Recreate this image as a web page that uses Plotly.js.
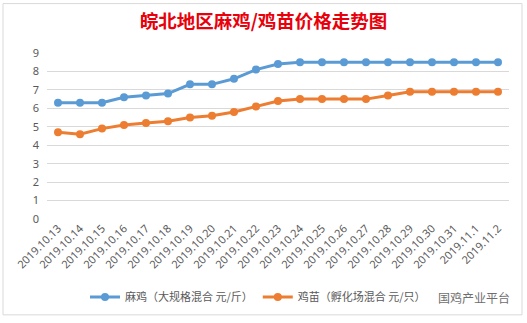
<!DOCTYPE html>
<html><head><meta charset="utf-8">
<script src="https://cdn.plot.ly/plotly-3.0.1.min.js"></script>
<style>html,body{margin:0;padding:0;background:#fff}#c{width:527px;height:323px}</style>
</head><body><div id="c"></div>
<script>
const dates = ["2019.10.13","2019.10.14","2019.10.15","2019.10.16","2019.10.17","2019.10.18","2019.10.19","2019.10.20","2019.10.21","2019.10.22","2019.10.23","2019.10.24","2019.10.25","2019.10.26","2019.10.27","2019.10.28","2019.10.29","2019.10.30","2019.10.31","2019.11.1","2019.11.2"];
const maji = [6.3,6.3,6.3,6.6,6.7,6.8,7.3,7.3,7.6,8.1,8.4,8.5,8.5,8.5,8.5,8.5,8.5,8.5,8.5,8.5,8.5];
const jimiao = [4.7,4.6,4.9,5.1,5.2,5.3,5.5,5.6,5.8,6.1,6.4,6.5,6.5,6.5,6.5,6.7,6.9,6.9,6.9,6.9,6.9];
const names = ["麻鸡（大规格混合 元/斤）","鸡苗（孵化场混合 元/只）"];
const yTicks = [0,1,2,3,4,5,6,7,8,9];

const font = "Microsoft YaHei, 'Noto Sans CJK SC', sans-serif";
const W = 527, H = 323, L = 47, R = 18, T = 53, B = 102;
const pw = W - L - R, ph = H - T - B;
const px = v => (v - L) / pw, py = v => (H - B - v) / ph;

const traces = [
  {x: dates, y: maji, name: names[0], type: 'scatter', mode: 'lines+markers',
   line: {color: '#5B9BD5', width: 3}, marker: {color: '#5B9BD5', size: 8}},
  {x: dates, y: jimiao, name: names[1], type: 'scatter', mode: 'lines+markers',
   line: {color: '#ED7D31', width: 3}, marker: {color: '#ED7D31', size: 8}}
];

const layout = {
  width: W, height: H,
  margin: {l: L, r: R, t: T, b: B},
  paper_bgcolor: '#ffffff', plot_bgcolor: '#ffffff',
  font: {family: font, color: '#595959', size: 11},
  title: {text: '<b>皖北地区麻鸡/鸡苗价格走势图</b>', x: 0.5, xanchor: 'center', y: 1 - 22/H, yanchor: 'middle',
          font: {family: "'Noto Sans CJK SC', sans-serif", size: 18.5, color: '#E8000B'}},
  xaxis: {type: 'category', tickangle: -45, tickfont: {size: 11, color: '#595959', family: "'Noto Sans', sans-serif"},
          showgrid: false, zeroline: false, showline: false, ticks: '', fixedrange: true,
          range: [-0.5, dates.length - 0.5]},
  yaxis: {range: [0, 9], tickvals: yTicks, ticktext: yTicks.map(String), showgrid: true, gridcolor: '#D9D9D9', gridwidth: 1,
          zeroline: false, showline: false, ticks: '', ticklabelstandoff: 7,
          tickfont: {size: 11, color: '#595959', family: "'Noto Sans', sans-serif"},
          fixedrange: true},
  showlegend: true,
  legend: {orientation: 'h', x: px(85), xanchor: 'left', y: py(300), yanchor: 'middle',
           font: {size: 11, color: '#595959', family: font}, itemwidth: 30, tracegroupgap: 0,
           bgcolor: 'rgba(0,0,0,0)'},
  shapes: [
    {type: 'rect', xref: 'paper', yref: 'paper', x0: px(3), x1: px(522), y0: py(318), y1: py(3),
     line: {color: '#D9D9D9', width: 1}, fillcolor: 'rgba(0,0,0,0)', layer: 'below'}
  ],
  annotations: [
    {text: '国鸡产业平台', xref: 'paper', yref: 'paper', x: px(512), y: py(300), xanchor: 'right', yanchor: 'middle',
     showarrow: false, font: {size: 12, color: '#6e6e6e', family: font}}
  ]
};

Plotly.newPlot('c', traces, layout, {displayModeBar: false, staticPlot: true});
</script>
</body></html>
